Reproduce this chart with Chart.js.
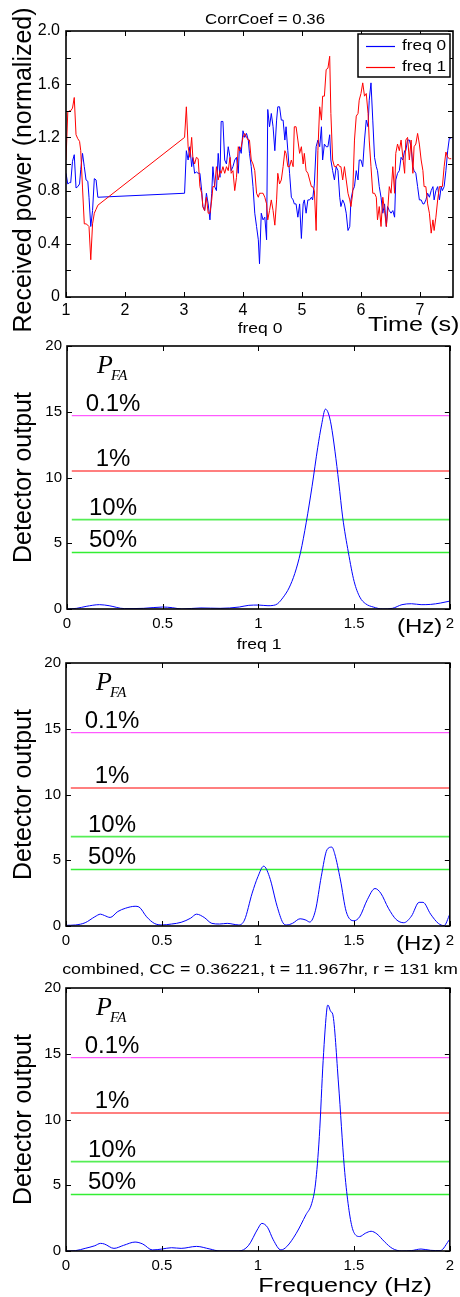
<!DOCTYPE html>
<html>
<head>
<meta charset="utf-8">
<title>Received power and detector output</title>
<script src="https://cdn.jsdelivr.net/npm/chart.js@4.4.1/dist/chart.umd.min.js"></script>
<style>
  body { margin: 0; background: #fff; }
  #wrap { position: relative; width: 460px; height: 1297px; overflow: hidden; }
  canvas { position: absolute; left: 0; }
</style>
</head>
<body>
<div id="wrap">
  <canvas id="powerChart" width="460" height="340" style="top:0px"></canvas>
  <canvas id="freq0Chart" width="460" height="320" style="top:318px"></canvas>
  <canvas id="freq1Chart" width="460" height="318" style="top:636px"></canvas>
  <canvas id="combinedChart" width="460" height="342" style="top:955px"></canvas>
</div>
<script>
// sample times (s) shared by both received power traces
const sampleTimes = [
  1.00, 1.03, 1.06, 1.08, 1.11, 1.14, 1.17, 1.20, 1.23, 1.25, 1.28, 1.31, 1.34, 1.37, 1.39, 1.42, 1.45, 1.48, 1.51, 1.54,
  3.01, 3.04, 3.07, 3.10, 3.13, 3.15, 3.18, 3.21, 3.24, 3.27, 3.30, 3.32, 3.35, 3.38, 3.41, 3.44, 3.47, 3.49, 3.52, 3.55,
  3.58, 3.61, 3.63, 3.66, 3.69, 3.72, 3.75, 3.78, 3.80, 3.83, 3.86, 3.89, 3.92, 3.94, 3.97, 4.00, 4.03, 4.06, 4.09, 4.11,
  4.14, 4.17, 4.20, 4.23, 4.26, 4.28, 4.31, 4.34, 4.37, 4.40, 4.42, 4.45, 4.48, 4.51, 4.54, 4.57, 4.59, 4.62, 4.65, 4.68,
  4.71, 4.73, 4.76, 4.79, 4.82, 4.85, 4.87, 4.90, 4.93, 4.96, 4.99, 5.02, 5.04, 5.07, 5.10, 5.13, 5.16, 5.18, 5.21, 5.24,
  5.27, 5.30, 5.33, 5.35, 5.38, 5.41, 5.44, 5.47, 5.49, 5.52, 5.55, 5.58, 5.61, 5.64, 5.66, 5.69, 5.72, 5.75, 5.78, 5.81,
  5.83, 5.86, 5.89, 5.92, 5.95, 5.97, 6.00, 6.03, 6.06, 6.09, 6.12, 6.14, 6.17, 6.20, 6.23, 6.26, 6.28, 6.31, 6.34, 6.37,
  6.40, 6.43, 6.45, 6.48, 6.51, 6.54, 6.57, 6.59, 6.62, 6.65, 6.68, 6.71, 6.74, 6.76, 6.79, 6.82, 6.85, 6.88, 6.90, 6.93,
  6.96, 6.99, 7.02, 7.05, 7.07, 7.10, 7.13, 7.16, 7.19, 7.22, 7.24, 7.27, 7.30, 7.33, 7.36, 7.38, 7.41, 7.44, 7.47, 7.50,
  7.53
];

const powerFreq0 = [
  0.93, 0.85, 0.86, 0.86, 1.02, 1.07, 0.82, 0.83, 0.85, 0.96, 1.08, 0.98, 0.88, 0.87, 0.75, 0.53, 0.65, 0.89, 0.88, 0.75,
  0.78, 1.10, 1.03, 1.13, 0.98, 1.05, 0.93, 0.94, 0.93, 0.93, 0.80, 0.68, 0.65, 0.78, 0.70, 0.58, 0.78, 0.98, 0.83, 0.80,
  1.08, 0.90, 1.32, 1.32, 1.03, 1.00, 1.13, 1.05, 0.95, 0.98, 1.03, 1.05, 0.93, 1.13, 1.08, 1.25, 1.20, 1.23, 1.18, 1.08,
  0.98, 0.83, 0.63, 0.53, 0.43, 0.25, 0.63, 0.58, 0.60, 0.43, 1.41, 1.28, 1.38, 1.28, 1.10, 1.33, 1.43, 1.43, 1.33, 1.33,
  1.18, 1.28, 1.10, 0.93, 0.75, 0.73, 0.70, 0.70, 0.60, 0.70, 0.44, 0.70, 0.73, 0.63, 0.73, 0.73, 0.75, 0.73, 0.85, 1.13,
  1.18, 1.13, 1.28, 1.03, 1.15, 1.13, 1.13, 1.22, 1.03, 0.95, 0.88, 0.98, 0.95, 0.75, 0.68, 0.73, 0.70, 0.63, 0.50, 0.53,
  0.73, 0.80, 0.83, 0.95, 0.88, 1.03, 1.03, 0.98, 1.18, 1.33, 1.28, 1.48, 1.61, 1.33, 1.05, 0.98, 0.95, 0.83, 0.75, 0.63,
  0.70, 0.53, 0.68, 0.65, 0.63, 0.65, 0.60, 0.88, 0.93, 0.95, 1.05, 1.03, 1.10, 1.10, 1.18, 1.18, 1.13, 0.98, 0.95, 0.93,
  0.83, 0.73, 0.73, 0.70, 0.70, 0.73, 0.78, 0.75, 0.80, 0.83, 0.73, 0.80, 0.83, 0.73, 0.83, 0.80, 0.83, 0.95, 1.10, 1.20,
  1.19
];

const powerFreq1 = [
  1.03, 1.39, 1.40, 1.40, 1.42, 1.50, 1.22, 1.19, 1.17, 1.10, 0.82, 0.55, 0.55, 0.54, 0.53, 0.28, 0.55, 0.63, 0.66, 0.69,
  1.20, 1.43, 1.13, 1.05, 1.20, 1.05, 1.00, 1.05, 1.04, 0.83, 0.78, 0.68, 0.65, 0.75, 0.63, 0.63, 0.73, 0.83, 0.83, 0.98,
  0.88, 0.95, 0.93, 0.98, 0.93, 0.98, 0.95, 1.05, 0.93, 0.95, 0.80, 0.90, 1.13, 1.10, 1.13, 1.20, 1.23, 1.20, 1.18, 1.18,
  1.03, 1.00, 0.95, 0.78, 0.75, 0.78, 0.78, 0.78, 0.75, 0.70, 0.58, 0.65, 0.73, 0.65, 0.54, 0.73, 0.93, 0.85, 0.88, 0.98,
  1.10, 1.08, 0.98, 0.98, 1.03, 0.98, 1.28, 1.28, 1.18, 1.08, 1.13, 1.00, 1.08, 0.95, 0.93, 0.88, 0.83, 0.83, 0.80, 0.50,
  1.10, 1.43, 1.33, 1.51, 1.51, 1.71, 1.72, 1.81, 1.38, 1.03, 0.98, 0.98, 1.00, 0.98, 0.98, 0.88, 0.98, 0.88, 0.78, 0.73,
  0.68, 0.78, 1.18, 1.36, 1.38, 1.48, 1.53, 1.61, 1.51, 1.53, 1.38, 1.18, 0.98, 0.78, 0.78, 0.75, 0.58, 0.68, 0.53, 0.75,
  0.65, 0.53, 0.63, 0.83, 0.78, 0.98, 0.78, 1.08, 1.15, 1.10, 1.18, 1.05, 0.93, 1.18, 1.20, 1.03, 1.18, 0.93, 1.13, 1.15,
  1.23, 1.15, 1.03, 0.95, 0.83, 0.83, 0.70, 0.63, 0.48, 0.58, 0.50, 0.60, 0.73, 0.83, 0.83, 0.83, 0.98, 1.09, 1.05, 1.04,
  1.04
];

// detector output vs frequency (Hz)
const freq0Hz = [0, 0.05, 0.1, 0.17, 0.22, 0.3, 0.4, 0.5, 0.55, 0.6, 0.7, 0.8, 0.9, 0.95, 1.0, 1.05, 1.08, 1.1, 1.13, 1.16,
  1.19, 1.22, 1.25, 1.28, 1.31, 1.33, 1.35, 1.365, 1.38, 1.4, 1.42, 1.44, 1.47, 1.5, 1.53, 1.56, 1.6, 1.65, 1.7, 1.75,
  1.8, 1.85, 1.9, 1.95, 2.0];
const freq0Output = [0, 0.05, 0.2, 0.33, 0.25, 0.03, 0.05, 0.15, 0.1, 0, 0.08, 0.05, 0.15, 0.28, 0.3, 0.25, 0.28, 0.4, 0.9, 1.6,
  2.7, 4.3, 6.6, 9.3, 12.3, 14.0, 15.2, 14.9, 14.0, 12.0, 9.6, 7.0, 4.3, 2.1, 0.9, 0.4, 0.15, 0, 0.05, 0.33,
  0.4, 0.33, 0.35, 0.45, 0.6];

const freq1Hz = [0, 0.05, 0.1, 0.15, 0.18, 0.2, 0.23, 0.27, 0.31, 0.36, 0.38, 0.42, 0.46, 0.5, 0.55, 0.6, 0.65, 0.68, 0.72, 0.76,
  0.8, 0.84, 0.9, 0.93, 0.97, 1.0, 1.03, 1.06, 1.1, 1.13, 1.15, 1.18, 1.22, 1.25, 1.27, 1.3, 1.33, 1.36, 1.385, 1.4,
  1.43, 1.46, 1.5, 1.53, 1.57, 1.61, 1.64, 1.68, 1.72, 1.76, 1.8, 1.84, 1.86, 1.9, 1.94, 1.97, 2.0];
const freq1Output = [0.05, 0.08, 0.25, 0.7, 0.9, 0.8, 0.65, 1.1, 1.35, 1.5, 1.45, 0.7, 0.2, 0.08, 0.15, 0.28, 0.6, 0.9, 0.65, 0.2,
  0.15, 0.2, 0.08, 0.45, 2.5, 3.75, 4.55, 3.75, 1.5, 0.25, 0.08, 0.2, 0.55, 0.45, 0.3, 1.2, 3.75, 5.8, 6.0, 5.5,
  3.5, 1.1, 0.4, 0.7, 2.0, 2.85, 2.5, 1.35, 0.5, 0.25, 0.75, 1.8, 1.8, 0.9, 0.2, 0.03, 0.9];

const combinedHz = [0, 0.05, 0.1, 0.15, 0.18, 0.2, 0.25, 0.3, 0.36, 0.4, 0.45, 0.5, 0.55, 0.6, 0.68, 0.75, 0.8, 0.9, 0.95, 1.0,
  1.02, 1.05, 1.08, 1.12, 1.15, 1.2, 1.25, 1.28, 1.3, 1.32, 1.34, 1.36, 1.365, 1.38, 1.39, 1.42, 1.45, 1.47, 1.49, 1.51,
  1.53, 1.56, 1.59, 1.62, 1.66, 1.7, 1.75, 1.8, 1.85, 1.9, 1.95, 2.0];
const combinedOutput = [0, 0.03, 0.2, 0.4, 0.58, 0.53, 0.2, 0.43, 0.68, 0.53, 0.08, 0.15, 0.25, 0.2, 0.35, 0.15, 0, 0, 0.4, 1.7,
  2.1, 1.8, 0.85, 0.08, 0.33, 1.35, 2.75, 3.6, 5.1, 8.7, 14.5, 18.5, 18.7, 18.2, 18.0, 12.7, 6.4, 3.6, 1.85, 1.2,
  1.1, 1.35, 1.5, 1.3, 0.7, 0.2, 0, 0.03, 0.15, 0.05, 0.03, 0.9];

// false alarm thresholds
const pfaLabels = ['0.1%', '1%', '10%', '50%'];
const pfaLevels = [14.7, 10.5, 6.8, 4.3];
const pfaColors = ['#ff33ff', '#ff5555', '#55ee55', '#33ee33'];
const pfaWidths = [1, 1.5, 1.8, 1.5];

const FONT = "'Liberation Sans', Arial, Helvetica, sans-serif";
const SERIF = "'Liberation Serif', 'Times New Roman', serif";

function toPoints(xs, ys) {
    return xs.map((x, i) => ({ x: x, y: ys[i] }));
}

// draw text, optionally stretched horizontally like the original figure
function drawText(ctx, text, x, y, size, opt = {}) {
    ctx.save();
    ctx.font = `${opt.style || ''} ${size}px ${opt.family || FONT}`;
    ctx.fillStyle = '#000';
    ctx.textAlign = opt.align || 'left';
    ctx.textBaseline = opt.baseline || 'alphabetic';
    ctx.translate(x, y);
    if (opt.rotate) ctx.rotate(opt.rotate);
    ctx.scale(opt.sx || 1, 1);
    ctx.fillText(text, 0, 0);
    ctx.restore();
}

// matlab style box with inward ticks on all four sides, plus extra annotations
function matlabFrame(drawExtras) {
    return {
        id: 'matlabFrame',
        afterDraw(chart) {
            const ctx = chart.ctx;
            const a = chart.chartArea;
            const xs = chart.scales.x;
            const ys = chart.scales.y;
            ctx.save();
            ctx.strokeStyle = '#000';
            ctx.lineWidth = 1;
            ctx.beginPath();
            xs.ticks.forEach(t => {
                const px = Math.round(xs.getPixelForValue(t.value)) + 0.5;
                ctx.moveTo(px, a.bottom); ctx.lineTo(px, a.bottom - 5);
                ctx.moveTo(px, a.top); ctx.lineTo(px, a.top + 5);
            });
            ys.ticks.forEach(t => {
                const py = Math.round(ys.getPixelForValue(t.value)) + 0.5;
                ctx.moveTo(a.left, py); ctx.lineTo(a.left + 5, py);
                ctx.moveTo(a.right, py); ctx.lineTo(a.right - 5, py);
            });
            ctx.stroke();
            ctx.lineWidth = 1.6;
            ctx.strokeRect(a.left, a.top, a.right - a.left, a.bottom - a.top);
            ctx.restore();
            drawExtras(chart, ctx, a);
        }
    };
}

function axisScales(o) {
    return {
        x: {
            type: 'linear',
            min: o.xMin, max: o.xMax,
            afterFit: s => { s.height = o.xHeight; },
            grid: { display: false, drawTicks: false },
            border: { display: false },
            ticks: {
                stepSize: o.xStep, includeBounds: false, autoSkip: false, maxRotation: 0,
                padding: o.xPad, color: '#000',
                font: { family: FONT, size: o.tickSize },
                callback: o.xFormat || (v => String(v))
            }
        },
        y: {
            type: 'linear',
            min: o.yMin, max: o.yMax,
            afterFit: s => { s.width = o.yWidth; },
            grid: { display: false, drawTicks: false },
            border: { display: false },
            ticks: {
                stepSize: o.yStep, includeBounds: false, autoSkip: false,
                padding: o.yPad, color: '#000',
                font: { family: FONT, size: o.tickSize },
                callback: o.yFormat || (v => String(v))
            }
        }
    };
}

function thresholdDatasets() {
    const lineStartHz = 0.025;
    return pfaLevels.map((lvl, i) => ({
        label: pfaLabels[i],
        data: [{ x: lineStartHz, y: lvl }, { x: 2, y: lvl }],
        borderColor: pfaColors[i],
        borderWidth: pfaWidths[i],
        pointRadius: 0,
        order: 2
    }));
}

function drawPfaLabels(chart, ctx, a) {
    const ys = chart.scales.y;
    drawText(ctx, 'P', a.left + 30, a.top + 27, 26, { style: 'italic', family: SERIF });
    drawText(ctx, 'FA', a.left + 44, a.top + 34, 15, { style: 'italic', family: SERIF });
    pfaLevels.forEach((lvl, i) => {
        drawText(ctx, pfaLabels[i], a.left + 46, ys.getPixelForValue(lvl) - 5, 24, { align: 'center' });
    });
}

function detectorChart(canvasId, hz, output, layout, extras) {
    const ctx = document.getElementById(canvasId);
    return new Chart(ctx, {
        type: 'line',
        data: {
            datasets: [{
                label: 'detector',
                data: toPoints(hz, output),
                borderColor: '#0000ff',
                borderWidth: 1,
                pointRadius: 0,
                cubicInterpolationMode: 'monotone',
                order: 0
            }].concat(thresholdDatasets())
        },
        options: {
            responsive: false,
            animation: false,
            events: [],
            layout: { padding: layout.padding },
            plugins: { legend: { display: false }, tooltip: { enabled: false } },
            scales: axisScales({
                xMin: 0, xMax: 2, xStep: 0.5, yMin: 0, yMax: 20, yStep: 5,
                xHeight: 25, yWidth: layout.yWidth, xPad: 6, yPad: 5, tickSize: 15
            })
        },
        plugins: [matlabFrame((chart, c, a) => {
            drawText(c, 'Detector output', 24, (a.top + a.bottom) / 2, 25,
                { align: 'center', baseline: 'middle', rotate: -Math.PI / 2 });
            drawPfaLabels(chart, c, a);
            extras(chart, c, a);
        })]
    });
}

// received power panel
new Chart(document.getElementById('powerChart'), {
    type: 'line',
    data: {
        datasets: [
            {
                label: 'freq 0',
                data: toPoints(sampleTimes, powerFreq0),
                borderColor: '#0000ff',
                borderWidth: 1,
                pointRadius: 0,
                order: 1
            },
            {
                label: 'freq 1',
                data: toPoints(sampleTimes, powerFreq1),
                borderColor: '#ff0000',
                borderWidth: 1,
                pointRadius: 0,
                order: 0
            }
        ]
    },
    options: {
        responsive: false,
        animation: false,
        events: [],
        layout: { padding: { top: 31, right: 7, bottom: 13, left: 0 } },
        plugins: { legend: { display: false }, tooltip: { enabled: false } },
        scales: axisScales({
            xMin: 1, xMax: 7.56, xStep: 1, yMin: 0, yMax: 2, yStep: 0.2,
            xHeight: 30, yWidth: 66, xPad: 4, yPad: 6, tickSize: 16,
            yFormat: v => (Math.round(v * 5) % 2 === 0 ? (v === 0 ? '0' : v.toFixed(1)) : '')
        })
    },
    plugins: [matlabFrame((chart, c, a) => {
        drawText(c, 'CorrCoef = 0.36', 265, 20, 14, { align: 'center', baseline: 'middle', sx: 1.2 });
        drawText(c, 'Received power (normalized)', 24, 170, 25,
            { align: 'center', baseline: 'middle', rotate: -Math.PI / 2 });
        drawText(c, 'Time (s)', 368, 331, 21, { sx: 1.2 });

        // legend box
        c.save();
        c.fillStyle = '#fff';
        c.fillRect(358, 34, 92, 43);
        c.strokeStyle = '#000';
        c.lineWidth = 1.5;
        c.strokeRect(358, 34, 92, 43);
        c.lineWidth = 1.2;
        chart.data.datasets.forEach((ds, i) => {
            const y = 46 + i * 21;
            c.strokeStyle = ds.borderColor;
            c.beginPath();
            c.moveTo(366, y + 0.5);
            c.lineTo(395, y + 0.5);
            c.stroke();
            drawText(c, ds.label, 402, y, 15, { baseline: 'middle', sx: 1.15 });
        });
        c.restore();
    })]
});

detectorChart('freq0Chart', freq0Hz, freq0Output,
    { padding: { top: 28, right: 7, bottom: 4, left: 0 }, yWidth: 67 },
    (chart, c, a) => {
        drawText(c, 'freq 0', 260, 11, 14, { align: 'center', baseline: 'middle', sx: 1.25 });
        drawText(c, '(Hz)', 397, 315, 20, { sx: 1.2 });
    });

detectorChart('freq1Chart', freq1Hz, freq1Output,
    { padding: { top: 27, right: 7, bottom: 3, left: 0 }, yWidth: 66 },
    (chart, c, a) => {
        drawText(c, 'freq 1', 259, 9, 14, { align: 'center', baseline: 'middle', sx: 1.25 });
        drawText(c, '(Hz)', 396, 314, 20, { sx: 1.2 });
    });

detectorChart('combinedChart', combinedHz, combinedOutput,
    { padding: { top: 33, right: 7, bottom: 21, left: 0 }, yWidth: 66 },
    (chart, c, a) => {
        drawText(c, 'combined, CC = 0.36221, t = 11.967hr, r = 131 km', 260, 15, 14.5,
            { align: 'center', baseline: 'middle', sx: 1.23 });
        drawText(c, 'Frequency (Hz)', 345, 337, 21, { align: 'center', sx: 1.2 });
    });
</script>
</body>
</html>
